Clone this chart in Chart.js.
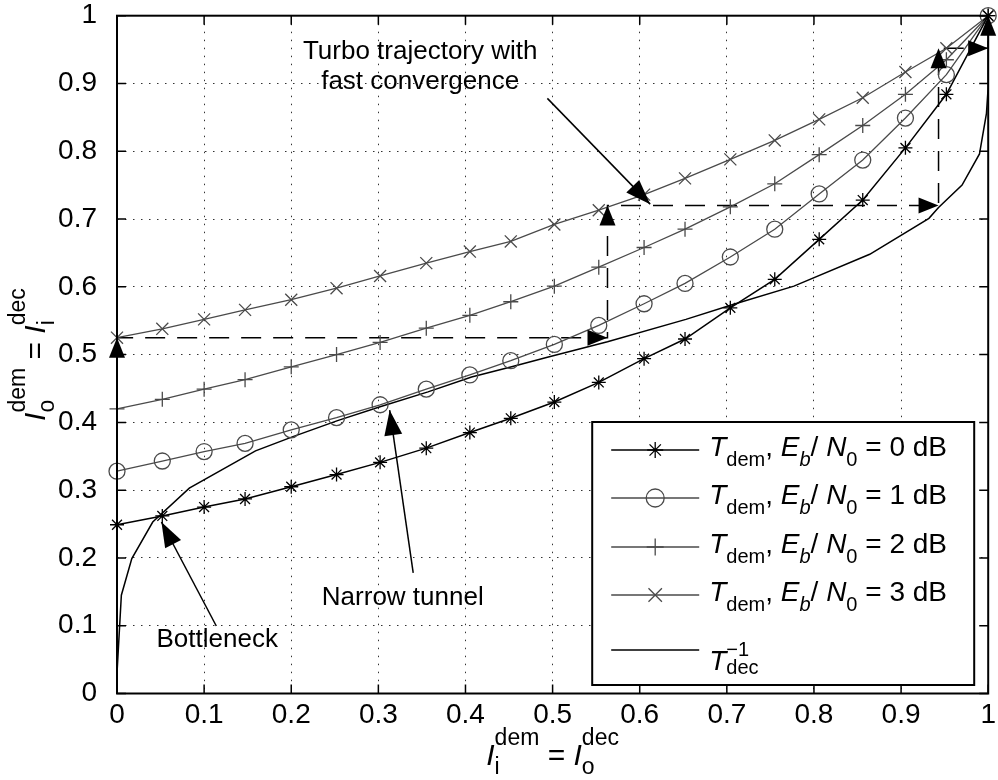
<!DOCTYPE html>
<html>
<head>
<meta charset="utf-8">
<script src="https://cdn.jsdelivr.net/npm/chart.js@4.4.0/dist/chart.umd.min.js"></script>
<style>
html, body { margin: 0; padding: 0; background: #fff; }
</style>
</head>
<body>
<canvas id="chart" width="998" height="780"></canvas>
<script>
// EXIT chart data
const demX = [0, 0.052, 0.1, 0.147, 0.2, 0.252, 0.302, 0.355, 0.405, 0.452, 0.502,
	0.553, 0.605, 0.652, 0.704, 0.755, 0.806, 0.856, 0.905, 0.952, 1];
const dem0dB = [0.249, 0.262, 0.275, 0.287, 0.305, 0.323, 0.341, 0.362, 0.385, 0.406, 0.430,
	0.459, 0.494, 0.523, 0.569, 0.611, 0.670, 0.728, 0.805, 0.884, 1.0];
const dem1dB = [0.328, 0.343, 0.357, 0.369, 0.389, 0.407, 0.426, 0.449, 0.470, 0.491, 0.515,
	0.543, 0.575, 0.605, 0.644, 0.685, 0.737, 0.787, 0.849, 0.913, 1.0];
const dem2dB = [0.420, 0.434, 0.449, 0.463, 0.482, 0.500, 0.518, 0.539, 0.558, 0.578, 0.601,
	0.629, 0.658, 0.685, 0.718, 0.752, 0.795, 0.838, 0.884, 0.935, 1.0];
const dem3dB = [0.525, 0.538, 0.552, 0.566, 0.581, 0.598, 0.616, 0.635, 0.652, 0.667, 0.692,
	0.713, 0.736, 0.760, 0.788, 0.816, 0.847, 0.879, 0.917, 0.952, 1.0];

// inverse decoder curve
const decX = [0, 0.005, 0.017, 0.041, 0.083, 0.159, 0.202, 0.254, 0.302, 0.357, 0.407, 0.453,
	0.494, 0.563, 0.653, 0.707, 0.777, 0.864, 0.932, 0.943, 0.970, 0.990, 0.998, 1.0, 1.0];
const decY = [0.03, 0.145, 0.199, 0.253, 0.303, 0.358, 0.379, 0.403, 0.423, 0.445, 0.467, 0.482,
	0.496, 0.519, 0.552, 0.574, 0.601, 0.648, 0.701, 0.717, 0.750, 0.796, 0.856, 0.895, 1.0];

// decoding trajectory (dashed)
const trajX = [0, 0, 0.563, 0.563, 0.943, 0.943, 1, 1];
const trajY = [0, 0.525, 0.525, 0.72, 0.72, 0.952, 0.952, 1];

const xTicks = [0, 0.1, 0.2, 0.3, 0.4, 0.5, 0.6, 0.7, 0.8, 0.9, 1];
const xTickLabels = ["0", "0.1", "0.2", "0.3", "0.4", "0.5", "0.6", "0.7", "0.8", "0.9", "1"];
const yTicks = [0, 0.1, 0.2, 0.3, 0.4, 0.5, 0.6, 0.7, 0.8, 0.9, 1];
const yTickLabels = ["0", "0.1", "0.2", "0.3", "0.4", "0.5", "0.6", "0.7", "0.8", "0.9", "1"];

const snrLabels = ["0", "1", "2", "3"];

// annotations: text, anchor, arrow start and tip (data units)
const noteText = [["Turbo trajectory with", "fast convergence"], ["Narrow tunnel"], ["Bottleneck"]];
const noteX = [0.348, 0.328, 0.115];
const noteY = [0.924, 0.141, 0.079];
const arrowFrom = [[0.494, 0.878], [0.34, 0.178], [0.114, 0.0996]];
const arrowTo = [[0.612, 0.722], [0.313, 0.418], [0.051, 0.253]];

const FONT = '"Liberation Sans", Arial, Helvetica, sans-serif';
const GRAY = "#4a4a4a";

function pts(xs, ys) {
	return xs.map((x, i) => ({ x: x, y: ys[i] }));
}

function series(label, ys, color, style, radius, width) {
	return {
		label: label,
		data: pts(demX, ys),
		showLine: true,
		borderColor: color,
		borderWidth: width,
		pointStyle: style,
		pointRadius: radius,
		pointBorderColor: color,
		pointBorderWidth: 1.3,
		pointBackgroundColor: "rgba(0,0,0,0)",
		clip: false
	};
}

function drawMarker(ctx, style, x, y, r) {
	ctx.beginPath();
	if (style === "circle") {
		ctx.arc(x, y, r, 0, Math.PI * 2);
	} else {
		const d = r * Math.SQRT1_2;
		if (style === "cross" || style === "star") {
			ctx.moveTo(x, y - r); ctx.lineTo(x, y + r);
			ctx.moveTo(x - r, y); ctx.lineTo(x + r, y);
		}
		if (style === "crossRot" || style === "star") {
			ctx.moveTo(x - d, y - d); ctx.lineTo(x + d, y + d);
			ctx.moveTo(x + d, y - d); ctx.lineTo(x - d, y + d);
		}
	}
	ctx.stroke();
}

function arrowHead(ctx, x1, y1, x2, y2, len, hw) {
	const a = Math.atan2(y2 - y1, x2 - x1);
	const bx = x2 - Math.cos(a) * len, by = y2 - Math.sin(a) * len;
	ctx.beginPath();
	ctx.moveTo(x2, y2);
	ctx.lineTo(bx + Math.sin(a) * hw, by - Math.cos(a) * hw);
	ctx.lineTo(bx - Math.sin(a) * hw, by + Math.cos(a) * hw);
	ctx.closePath();
	ctx.fill();
}

// text with sub/superscripts; returns width
function rich(ctx, parts, x, y, size, small, supDy, subDy, draw) {
	let cx = x;
	ctx.textAlign = "left";
	ctx.textBaseline = "alphabetic";
	for (const p of parts) {
		if (p.stack) {
			ctx.font = small + "px " + FONT;
			const w1 = ctx.measureText(p.stack[0]).width;
			const w2 = ctx.measureText(p.stack[1]).width;
			if (draw) {
				ctx.fillText(p.stack[0], cx, y + supDy);
				ctx.fillText(p.stack[1], cx, y + subDy);
			}
			cx += Math.max(w1, w2);
			continue;
		}
		const s = p.sub ? small : size;
		ctx.font = (p.it ? "italic " : "") + s + "px " + FONT;
		if (draw) ctx.fillText(p.t, cx, y + (p.sub ? 10 : 0));
		cx += ctx.measureText(p.t).width;
	}
	return cx - x;
}

const decor = {
	id: "decor",
	afterDraw(chart) {
		const ctx = chart.ctx;
		const xs = chart.scales.x, ys = chart.scales.y;
		const area = chart.chartArea;
		const px = v => xs.getPixelForValue(v);
		const py = v => ys.getPixelForValue(v);
		ctx.save();
		ctx.fillStyle = "#000";
		ctx.strokeStyle = "#000";

		// trajectory arrowheads
		for (let i = 1; i < trajX.length; i++) {
			arrowHead(ctx, px(trajX[i - 1]), py(trajY[i - 1]), px(trajX[i]), py(trajY[i]), 20, 8);
		}

		// annotations
		ctx.lineWidth = 1.5;
		for (let i = 0; i < noteText.length; i++) {
			const x1 = px(arrowFrom[i][0]), y1 = py(arrowFrom[i][1]);
			const x2 = px(arrowTo[i][0]), y2 = py(arrowTo[i][1]);
			ctx.beginPath();
			ctx.moveTo(x1, y1);
			ctx.lineTo(x2, y2);
			ctx.stroke();
			arrowHead(ctx, x1, y1, x2, y2, 25, 9);
			ctx.font = "26px " + FONT;
			ctx.textAlign = "center";
			ctx.textBaseline = "middle";
			const lines = noteText[i];
			const cy = py(noteY[i]);
			lines.forEach((t, k) => {
				ctx.fillText(t, px(noteX[i]), cy + (k - (lines.length - 1) / 2) * 30);
			});
		}

		// box and inward ticks
		ctx.lineWidth = 2;
		ctx.strokeRect(area.left, area.top, area.right - area.left, area.bottom - area.top);
		ctx.lineWidth = 1.5;
		ctx.beginPath();
		xTicks.forEach(v => {
			const x = px(v);
			ctx.moveTo(x, area.bottom); ctx.lineTo(x, area.bottom - 9);
			ctx.moveTo(x, area.top); ctx.lineTo(x, area.top + 9);
		});
		yTicks.forEach(v => {
			const y = py(v);
			ctx.moveTo(area.left, y); ctx.lineTo(area.left + 9, y);
			ctx.moveTo(area.right, y); ctx.lineTo(area.right - 9, y);
		});
		ctx.stroke();

		// legend
		const lx = area.right - 396, ly = area.bottom - 271.5;
		const lw = 382, lh = 263;
		ctx.fillStyle = "#fff";
		ctx.fillRect(lx, ly, lw, lh);
		ctx.lineWidth = 2;
		ctx.strokeStyle = "#000";
		ctx.strokeRect(lx, ly, lw, lh);
		const rowY = [28, 76, 125, 173, 228];
		const sets = chart.data.datasets;
		for (let i = 0; i < 5; i++) {
			const ds = sets[i];
			const yy = ly + rowY[i];
			ctx.strokeStyle = ds.borderColor;
			ctx.lineWidth = ds.borderWidth;
			ctx.beginPath();
			ctx.moveTo(lx + 19, yy);
			ctx.lineTo(lx + 107, yy);
			ctx.stroke();
			if (ds.pointRadius > 0) {
				ctx.lineWidth = 1.3;
				drawMarker(ctx, ds.pointStyle, lx + 63, yy, ds.pointRadius + 1);
			}
			ctx.fillStyle = "#000";
			let parts;
			if (i < 4) {
				parts = [{ t: "T", it: true }, { t: "dem", sub: true }, { t: ", " },
					{ t: "E", it: true }, { t: "b", it: true, sub: true }, { t: "/ " },
					{ t: "N", it: true }, { t: "0", sub: true }, { t: " = " + snrLabels[i] + " dB" }];
				rich(ctx, parts, lx + 117, yy + 6, 28, 20, -13, 10, true);
			} else {
				parts = [{ t: "T", it: true }, { stack: ["\u22121", "dec"] }];
				rich(ctx, parts, lx + 117, yy + 20, 28, 20, -14, 4, true);
			}
		}

		// axis titles
		ctx.fillStyle = "#000";
		const xt = [{ t: "I", it: true }, { stack: ["dem", "i"] }, { t: " = " },
			{ t: "I", it: true }, { stack: ["dec", "o"] }];
		const cxm = (area.left + area.right) / 2;
		const wx = rich(ctx, xt, 0, 0, 30, 23, -20, 9, false);
		rich(ctx, xt, cxm - wx / 2, 765, 30, 23, -20, 9, true);

		const yt = [{ t: "I", it: true }, { stack: ["dem", "o"] }, { t: " = " },
			{ t: "I", it: true }, { stack: ["dec", "i"] }];
		const wy = rich(ctx, yt, 0, 0, 30, 23, -20, 9, false);
		ctx.translate(45, (area.top + area.bottom) / 2);
		ctx.rotate(-Math.PI / 2);
		rich(ctx, yt, -wy / 2, 0, 30, 23, -20, 9, true);
		ctx.restore();
	}
};

const tickFont = { family: FONT, size: 28 };

new Chart(document.getElementById("chart").getContext("2d"), {
	type: "scatter",
	data: {
		datasets: [
			series("0 dB", dem0dB, "#000", "star", 7, 1.5),
			series("1 dB", dem1dB, GRAY, "circle", 8, 1.3),
			series("2 dB", dem2dB, GRAY, "cross", 7.5, 1.3),
			series("3 dB", dem3dB, GRAY, "crossRot", 8.5, 1.3),
			{
				label: "T dec inverse",
				data: pts(decX, decY),
				showLine: true,
				borderColor: "#000",
				borderWidth: 1.5,
				pointRadius: 0,
				clip: false
			},
			{
				label: "trajectory",
				data: pts(trajX, trajY),
				showLine: true,
				borderColor: "#000",
				borderWidth: 1.5,
				borderDash: [20, 12],
				pointRadius: 0,
				clip: false
			}
		]
	},
	options: {
		responsive: false,
		animation: false,
		devicePixelRatio: 1,
		layout: { padding: { top: 15.7, right: 4, left: 0, bottom: 0 } },
		plugins: { legend: { display: false }, tooltip: { enabled: false } },
		scales: {
			x: {
				type: "linear",
				min: 0,
				max: 1,
				afterBuildTicks: s => { s.ticks = xTicks.map(v => ({ value: v })); },
				afterFit: s => { s.height = 86.5; s.paddingLeft = 0; s.paddingRight = 0; },
				ticks: {
					font: tickFont,
					color: "#000",
					padding: 5,
					maxRotation: 0,
					autoSkip: false,
					callback: (v, i) => xTickLabels[i]
				},
				grid: { color: "rgba(0,0,0,0.8)", lineWidth: 1, drawTicks: false },
				border: { display: false, dash: [1.5, 6.5] }
			},
			y: {
				type: "linear",
				min: 0,
				max: 1,
				afterBuildTicks: s => { s.ticks = yTicks.map(v => ({ value: v })); },
				afterFit: s => { s.width = 117; s.paddingTop = 0; s.paddingBottom = 0; },
				ticks: {
					font: tickFont,
					color: "#000",
					padding: 20,
					autoSkip: false,
					callback: (v, i) => yTickLabels[i]
				},
				grid: { color: "rgba(0,0,0,0.8)", lineWidth: 1, drawTicks: false },
				border: { display: false, dash: [1.5, 6.5] }
			}
		}
	},
	plugins: [decor]
});
</script>
</body>
</html>
